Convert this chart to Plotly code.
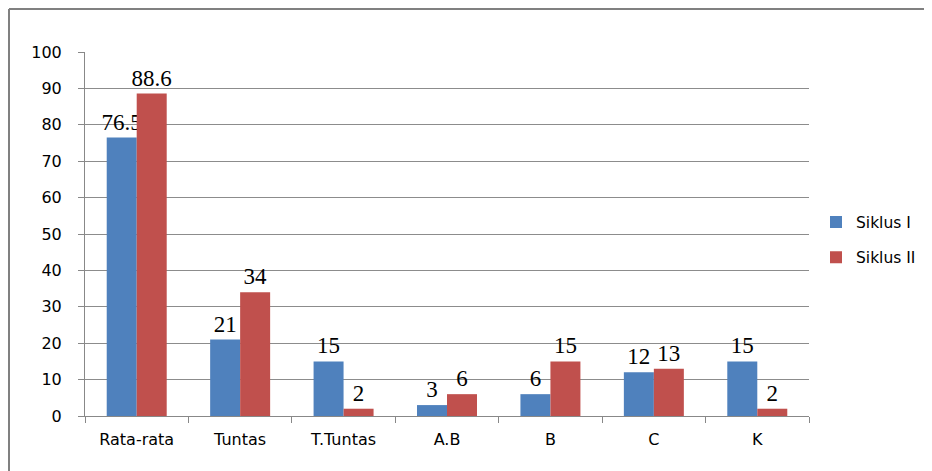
import plotly.graph_objects as go

categories = ["Rata-rata", "Tuntas", "T.Tuntas", "A.B", "B", "C", "K"]
siklus1 = [76.5, 21, 15, 3, 6, 12, 15]
siklus2 = [88.6, 34, 2, 6, 15, 13, 2]
series_names = ["Siklus I", "Siklus II"]
y_ticks = list(range(0, 101, 10))

OFF = 8  # page body offset
W, H = 932 - OFF, 471 - OFF
# target plot area in screen pixels: x 85..809, y 52..416
L = 85 - OFF
T = 52 - OFF
R = W - (809 - OFF)
B = H - (416 - OFF)
pw, ph = W - L - R, H - T - B

def px_x(x):  # screen px -> paper
    return (x - OFF - L) / pw

def px_y(y):
    return (H - B - (y - OFF)) / ph

fig = go.Figure()
colors = ["#4F81BD", "#C0504D"]
for name, vals, col, grp in zip(series_names, [siklus1, siklus2], colors, ["g1", "g2"]):
    fig.add_trace(go.Bar(
        x=categories, y=vals, name=name,
        marker=dict(color=col, line=dict(width=0)),
        text=[f"{v:g}" for v in vals], textposition="outside",
        textfont=dict(family="Liberation Serif", size=23, color="#000000"),
        constraintext="none",
        cliponaxis=False, legendgroup=grp,
    ))

border = dict(color="#808080", width=2)
fig.update_layout(
    width=W, height=H,
    margin=dict(l=L, r=R, t=T, b=B, pad=0, autoexpand=False),
    paper_bgcolor="white", plot_bgcolor="white",
    barmode="group", bargap=0.42, bargroupgap=0,
    font=dict(family="DejaVu Sans", size=16, color="#000000"),
    showlegend=True,
    legend=dict(x=px_x(816), y=(416 - 240) / 364, xanchor="left", yanchor="middle",
                traceorder="grouped", tracegroupgap=12,
                font=dict(family="DejaVu Sans", size=15.5, color="#000000"),
                itemwidth=30),
    xaxis=dict(showline=True, linecolor="#888888", linewidth=1,
               ticks="outside", tickson="boundaries", ticklen=6, tickcolor="#888888",
               showgrid=False, ticklabelstandoff=9),
    yaxis=dict(range=[0, 100], tickvals=y_ticks, showline=True, linecolor="#888888",
               linewidth=1, ticks="outside", ticklen=6, tickcolor="#888888",
               showgrid=True, gridcolor="#8c8c8c", gridwidth=1, zeroline=False,
               ticklabelstandoff=13),
    shapes=[
        dict(type="line", xref="paper", yref="paper",
             x0=px_x(9), x1=px_x(9), y0=px_y(471), y1=px_y(9), line=border),
        dict(type="line", xref="paper", yref="paper",
             x0=px_x(9), x1=px_x(932), y0=px_y(9), y1=px_y(9), line=border),
    ],
)

fig.write_html("out.html")
